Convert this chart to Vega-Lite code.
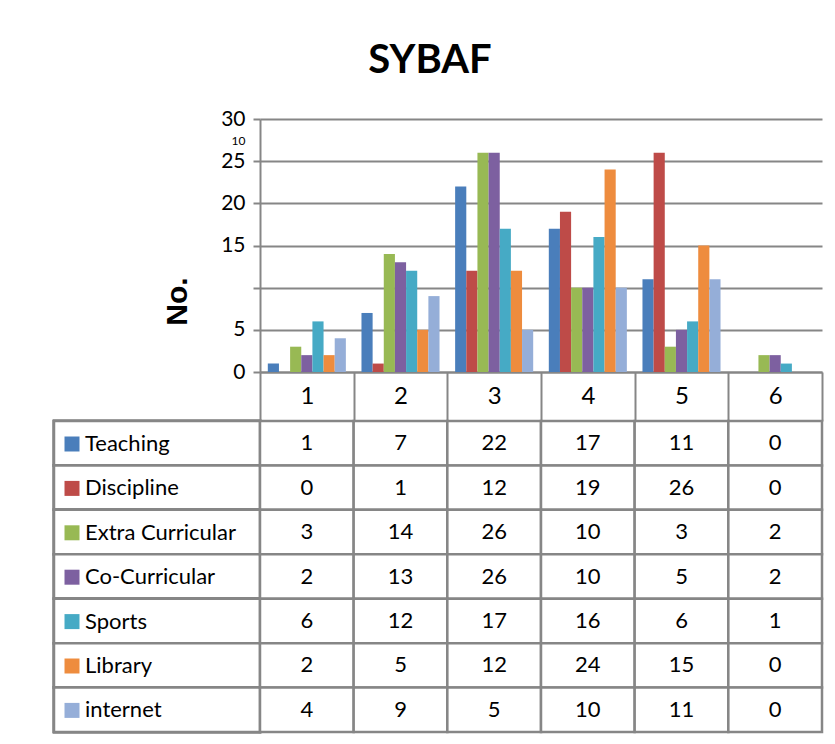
{
  "$schema": "https://vega.github.io/schema/vega-lite/v6.json",
  "background": "white",
  "padding": {"left": 52, "top": 41, "right": 15, "bottom": 10},
  "title": {"text": "SYBAF", "fontSize": 40, "font": "Lato", "fontWeight": "bold", "color": "black", "anchor": "middle", "offset": 27, "dx": -8},
  "datasets": {
    "d": [
      {"cat": "1", "series": "Teaching", "value": 1},
      {"cat": "2", "series": "Teaching", "value": 7},
      {"cat": "3", "series": "Teaching", "value": 22},
      {"cat": "4", "series": "Teaching", "value": 17},
      {"cat": "5", "series": "Teaching", "value": 11},
      {"cat": "6", "series": "Teaching", "value": 0},
      {"cat": "1", "series": "Discipline", "value": 0},
      {"cat": "2", "series": "Discipline", "value": 1},
      {"cat": "3", "series": "Discipline", "value": 12},
      {"cat": "4", "series": "Discipline", "value": 19},
      {"cat": "5", "series": "Discipline", "value": 26},
      {"cat": "6", "series": "Discipline", "value": 0},
      {"cat": "1", "series": "Extra Curricular", "value": 3},
      {"cat": "2", "series": "Extra Curricular", "value": 14},
      {"cat": "3", "series": "Extra Curricular", "value": 26},
      {"cat": "4", "series": "Extra Curricular", "value": 10},
      {"cat": "5", "series": "Extra Curricular", "value": 3},
      {"cat": "6", "series": "Extra Curricular", "value": 2},
      {"cat": "1", "series": "Co-Curricular", "value": 2},
      {"cat": "2", "series": "Co-Curricular", "value": 13},
      {"cat": "3", "series": "Co-Curricular", "value": 26},
      {"cat": "4", "series": "Co-Curricular", "value": 10},
      {"cat": "5", "series": "Co-Curricular", "value": 5},
      {"cat": "6", "series": "Co-Curricular", "value": 2},
      {"cat": "1", "series": "Sports", "value": 6},
      {"cat": "2", "series": "Sports", "value": 12},
      {"cat": "3", "series": "Sports", "value": 17},
      {"cat": "4", "series": "Sports", "value": 16},
      {"cat": "5", "series": "Sports", "value": 6},
      {"cat": "6", "series": "Sports", "value": 1},
      {"cat": "1", "series": "Library", "value": 2},
      {"cat": "2", "series": "Library", "value": 5},
      {"cat": "3", "series": "Library", "value": 12},
      {"cat": "4", "series": "Library", "value": 24},
      {"cat": "5", "series": "Library", "value": 15},
      {"cat": "6", "series": "Library", "value": 0},
      {"cat": "1", "series": "internet", "value": 4},
      {"cat": "2", "series": "internet", "value": 9},
      {"cat": "3", "series": "internet", "value": 5},
      {"cat": "4", "series": "internet", "value": 10},
      {"cat": "5", "series": "internet", "value": 11},
      {"cat": "6", "series": "internet", "value": 0}
    ]
  },
  "data": {"name": "d"},
  "columns": 2,
  "spacing": {"row": 49, "column": 0},
  "bounds": "flush",
  "concat": [
    {
      "width": 206, "height": 253,
      "mark": {"type": "text", "text": ""},
      "encoding": {}
    },
    {
      "width": 562, "height": 253,
      "mark": {"type": "bar"},
      "encoding": {
        "x": {"field": "cat", "type": "nominal", "scale": {"paddingInner": 0, "paddingOuter": 0},
          "axis": {"title": null, "labelAngle": 0, "tickBand": "extent", "tickSize": 49, "tickWidth": 2, "tickColor": "#868686", "domainColor": "#868686", "domainWidth": 2, "labelFontSize": 24, "labelFont": "Lato", "labelColor": "black", "labelPadding": -25, "labelBaseline": "middle"}},
        "xOffset": {"field": "series", "type": "nominal", "scale": {"domain": ["Teaching", "Discipline", "Extra Curricular", "Co-Curricular", "Sports", "Library", "internet"], "paddingOuter": 0.7, "paddingInner": 0}},
        "y": {"field": "value", "type": "quantitative", "scale": {"domain": [0, 30], "nice": false},
          "axis": {"title": "No.", "titleFontSize": 30, "titleFontWeight": "bold", "titleFont": "Liberation Sans", "titleColor": "black", "titleX": -83, "titleY": 182, "titleAngle": -90, "titleAlign": "center", "titleBaseline": "middle",
            "values": [0, 5, 10, 15, 20, 25, 30], "grid": true, "gridColor": "#868686", "gridWidth": 2, "domainColor": "#868686", "domainWidth": 2, "tickColor": "#868686", "tickWidth": 2, "tickSize": 7,
            "labelFont": "Lato", "labelColor": "black", "labelPadding": 8,
            "labelFontSize": {"condition": {"test": "datum.value == 10", "value": 12}, "value": 21},
            "labelOffset": {"condition": {"test": "datum.value == 10", "value": -147}, "value": 0}}},
        "color": {"field": "series", "type": "nominal",
          "scale": {"domain": ["Teaching", "Discipline", "Extra Curricular", "Co-Curricular", "Sports", "Library", "internet"], "range": ["#4A7EBB", "#BE4B48", "#98B954", "#7D60A0", "#46AAC5", "#EE8C3E", "#95AED8"]},
          "legend": {"orient": "none", "legendX": 7, "legendY": 314, "title": null, "symbolType": "square", "symbolSize": 225, "symbolStrokeWidth": 0, "symbolOpacity": 1, "labelFontSize": 22, "labelFont": "Lato", "labelColor": "black", "labelOffset": 2, "rowPadding": 22.4, "padding": 0, "direction": "vertical"}}
      }
    },
    {
      "width": 206, "height": 311,
      "mark": {"type": "rect", "fill": "white", "stroke": "#868686", "strokeWidth": 2.5},
      "encoding": {
        "y": {"field": "series", "type": "nominal", "scale": {"domain": ["Teaching", "Discipline", "Extra Curricular", "Co-Curricular", "Sports", "Library", "internet"], "paddingInner": 0, "paddingOuter": 0}, "axis": null}
      }
    },
    {
      "width": 562, "height": 311,
      "encoding": {
        "x": {"field": "cat", "type": "nominal", "scale": {"paddingInner": 0, "paddingOuter": 0}, "axis": null},
        "y": {"field": "series", "type": "nominal", "scale": {"domain": ["Teaching", "Discipline", "Extra Curricular", "Co-Curricular", "Sports", "Library", "internet"], "paddingInner": 0, "paddingOuter": 0}, "axis": null}
      },
      "layer": [
        {"mark": {"type": "rect", "fill": "white", "stroke": "#868686", "strokeWidth": 2.5}},
        {"mark": {"type": "text", "fontSize": 22, "font": "Lato", "color": "black"}, "encoding": {"text": {"field": "value", "type": "quantitative"}}}
      ]
    }
  ],
  "config": {"view": {"stroke": null}, "font": "Lato"}
}
